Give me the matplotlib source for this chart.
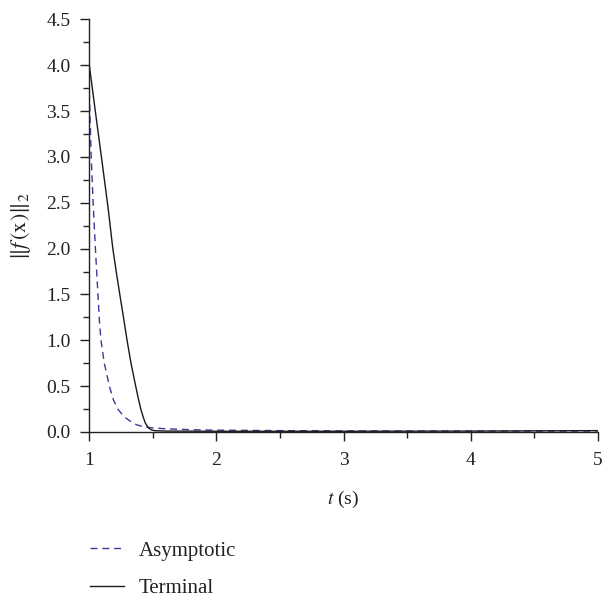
import matplotlib
matplotlib.use("Agg")
import matplotlib.pyplot as plt
from matplotlib.ticker import MultipleLocator

plt.rcParams['font.family'] = ['Liberation Serif', 'DejaVu Serif']
plt.rcParams['mathtext.fontset'] = 'stix'

# Data
t_asym = [1.0, 1.015, 1.03, 1.048, 1.068, 1.08, 1.092, 1.118, 1.158, 1.19, 1.225, 1.27, 1.32,
          1.37, 1.43, 1.5, 1.6, 1.8, 2.0, 2.5, 3.0, 4.0, 5.0]
v_asym = [3.7, 3.0, 2.5, 2.0, 1.5, 1.2, 1.0, 0.75, 0.5, 0.35, 0.25, 0.17, 0.12,
          0.08, 0.055, 0.045, 0.035, 0.025, 0.02, 0.015, 0.012, 0.01, 0.01]

t_term = [1.0, 1.05, 1.10, 1.15, 1.185, 1.215, 1.24, 1.27, 1.297, 1.328, 1.365, 1.385, 1.405,
          1.425, 1.44, 1.455, 1.47, 1.49, 1.52, 1.6, 2.0, 3.0, 4.0, 5.0]
v_term = [4.0, 3.47, 2.95, 2.42, 2.0, 1.72, 1.5, 1.24, 1.0, 0.75, 0.5, 0.37, 0.25,
          0.16, 0.1, 0.065, 0.04, 0.022, 0.014, 0.01, 0.008, 0.008, 0.01, 0.015]

x_ticks = [1, 2, 3, 4, 5]
y_ticks = [0.0, 0.5, 1.0, 1.5, 2.0, 2.5, 3.0, 3.5, 4.0, 4.5]

ink = '#222222'
fig = plt.figure(figsize=(6.06, 6.0), dpi=100)
ax = fig.add_axes([89.3/606, 1-432/600, (597.7-89.3)/606, (432-19.3)/600])

l1, = ax.plot(t_asym, v_asym, color='#3a3a9c', lw=1.0, dashes=(5, 3.5), label='Asymptotic')
l2, = ax.plot(t_term, v_term, color='#1a1a1a', lw=1.0, label='Terminal')

ax.set_xlim(1, 5)
ax.set_ylim(0, 4.5)
ax.set_xticks(x_ticks)
ax.set_xticklabels([str(v) for v in x_ticks])
ax.set_yticks(y_ticks)
ax.set_yticklabels([f'{v:.1f}' for v in y_ticks])
ax.xaxis.set_minor_locator(MultipleLocator(0.5))
ax.yaxis.set_minor_locator(MultipleLocator(0.25))

for s in ['top', 'right']:
    ax.spines[s].set_visible(False)
for s in ['left', 'bottom']:
    ax.spines[s].set_linewidth(1.0)
    ax.spines[s].set_color(ink)

ax.tick_params(axis='both', which='major', direction='out', length=6.5, width=1.0,
               labelsize=14, colors=ink)
ax.tick_params(axis='both', which='minor', direction='out', length=4, width=1.0, colors=ink)
ax.tick_params(axis='y', which='major', pad=7)
ax.tick_params(axis='x', which='major', pad=8)

ax.set_xlabel(r'$t$ (s)', fontsize=14, color=ink, labelpad=14)
ax.set_ylabel(r'$\|f\,(\mathrm{x})\|_2$', fontsize=16, color=ink)
ax.yaxis.set_label_coords((33 - 89.3) / 508.4, 0.5)

fig.legend(handles=[l1, l2], loc='upper left', bbox_to_anchor=(90/606, 1-541/600),
           frameon=False, fontsize=15, handlelength=1.63, handletextpad=0.72,
           labelspacing=0.85, borderpad=0, borderaxespad=0, labelcolor=ink)

fig.savefig('out.png', dpi=100)
